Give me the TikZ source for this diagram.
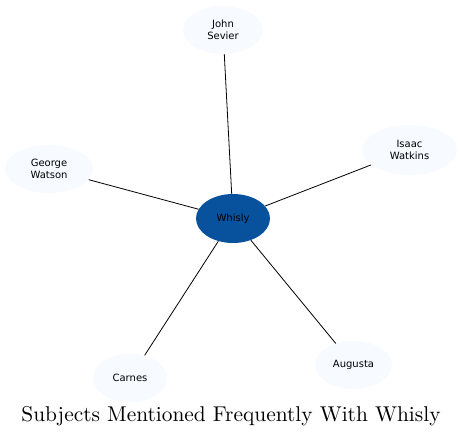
\documentclass[tikz,border=0pt]{standalone}
\usepackage{fontspec}
\newfontfamily\labfont{DejaVu Sans}
\usetikzlibrary{shapes.geometric}
\definecolor{leaf}{HTML}{F7FBFF}
\definecolor{hub}{HTML}{08519C}
\tikzset{
  bubble/.style={ellipse, fill=leaf, inner sep=0pt, align=center,
    font=\labfont\fontsize{10}{12}\selectfont},
  hubnode/.style={bubble, fill=hub},
  link/.style={draw=black, line width=0.8pt}
}
\begin{document}
\begin{tikzpicture}[x=1pt,y=-1pt]
\useasboundingbox (0,0) rectangle (461,439);
\node[hubnode, minimum width=74pt, minimum height=49pt] (w) at (233,218.5) {Whisly};
\node[bubble, minimum width=80pt, minimum height=48pt] (js) at (223,30) {John\\Sevier};
\node[bubble, minimum width=88pt, minimum height=48pt] (gw) at (49,169) {George\\Watson};
\node[bubble, minimum width=95pt, minimum height=50pt] (iw) at (409.5,150) {Isaac\\Watkins};
\node[bubble, minimum width=74pt, minimum height=49pt] (ca) at (130,378) {Carnes};
\node[bubble, minimum width=77pt, minimum height=48pt] (au) at (353.5,365) {Augusta};
\draw[link] (w) -- (js);
\draw[link] (w) -- (gw);
\draw[link] (w) -- (iw);
\draw[link] (w) -- (ca);
\draw[link] (w) -- (au);
\node[anchor=base, inner sep=0pt, font=\fontsize{10}{12}\selectfont] (title) at (231,421.7) {\scalebox{2.14}{Subjects Mentioned Frequently With Whisly}};
\end{tikzpicture}
\end{document}
